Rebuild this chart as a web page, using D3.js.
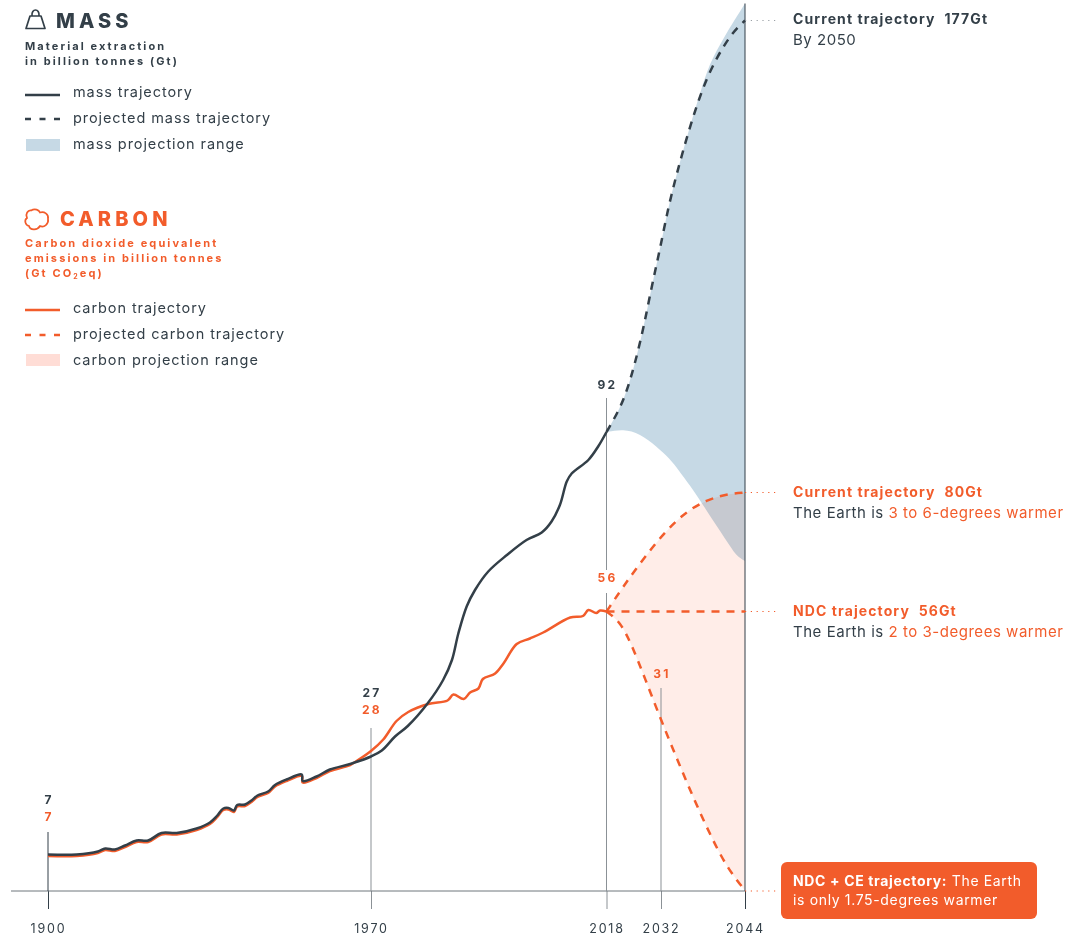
<!DOCTYPE html>
<html>
<head>
<meta charset="utf-8">
<script src="https://cdn.jsdelivr.net/npm/d3@7"></script>
<style>
  body { margin: 0; background: #fff; }
  text { font-family: Inter, "Open Sans", sans-serif; fill: #333f48; }
  .orange { fill: #f25c2b; }
  .legend { font-size: 14.5px; letter-spacing: 0.92px; }
  .subtitle { font-size: 11px; font-weight: 700; letter-spacing: 2.1px; }
  .title { font-size: 20px; font-weight: 800; letter-spacing: 4.1px; }
  .value { font-size: 12px; font-weight: 700; letter-spacing: 2.2px; text-anchor: middle; }
  .note { font-size: 15px; letter-spacing: 0.53px; }
  .note-b { font-size: 14px; font-weight: 700; letter-spacing: 1.1px; }
  .callout { font-size: 14px; letter-spacing: 0.65px; }
  .tick text { font-size: 12.5px; letter-spacing: 1.8px; fill: #333f48; }
</style>
</head>
<body>
<svg id="chart" width="1074" height="938"></svg>
<script>
// values, years / billion tonnes
const tickYears = [1900, 1970, 2018, 2032, 2044];

const massYears = [1900, 1906.2, 1910.8, 1912.4, 1914.5, 1916.7, 1919.2, 1921.7, 1924.6, 1927.9, 1932.2, 1935.1, 1936.6, 1938, 1939.1, 1940.3, 1941, 1942.7, 1944.1, 1945.4, 1947.7, 1949.2, 1951.7, 1955, 1955.2, 1958.2, 1961.1, 1965.5, 1970, 1972.2, 1974.9, 1977.5, 1981.6, 1984.7, 1986.5, 1987.8, 1989.5, 1991.2, 1993.9, 1997.7, 2001.7, 2004.8, 2006.8, 2008.5, 2009.9, 2010.9, 2014.3, 2016.3, 2018];
const massValues = [7.3, 7.3, 7.9, 8.5, 8.3, 9.1, 10.1, 10.1, 11.6, 11.6, 12.5, 13.7, 15, 16.5, 16.6, 16.1, 17.2, 17.3, 18.1, 19.1, 19.9, 21.2, 22.3, 23.3, 22, 22.9, 24.3, 25.4, 26.9, 28.1, 30.9, 33, 37.6, 42.2, 46.2, 51.5, 56.9, 60.2, 63.9, 67.2, 70.2, 71.7, 73.9, 77.2, 81.9, 83.5, 86.2, 88.9, 91.8];

const carbonYears = [1900, 1906.2, 1910.8, 1912.4, 1914.5, 1916.7, 1919.2, 1921.7, 1924.6, 1927.9, 1932.2, 1935.1, 1936.6, 1938, 1939.1, 1940.3, 1941, 1942.7, 1944.1, 1945.4, 1947.7, 1949.2, 1951.7, 1955, 1955.2, 1958.2, 1961.1, 1965.5, 1966.9, 1970, 1972.5, 1975.2, 1977.6, 1981.7, 1985.6, 1986.8, 1988.9, 1990.2, 1991.9, 1992.8, 1995.3, 1997, 1999.7, 2002.4, 2005.1, 2010.6, 2013.2, 2014.3, 2015.9, 2016.7, 2018];
const carbonValues = [7, 7, 7.6, 8.2, 8, 8.8, 9.8, 9.8, 11.3, 11.3, 12.2, 13.4, 14.7, 16.2, 16.3, 15.8, 16.9, 17, 17.8, 18.8, 19.6, 20.9, 22, 23, 21.7, 22.6, 24, 25.2, 26, 28, 30.3, 34, 35.8, 37.4, 38.1, 39.3, 38.4, 39.7, 40.5, 42.4, 43.5, 45.5, 49.4, 50.5, 51.7, 54.7, 55, 56.2, 55.6, 56.1, 55.9];

const massProjYears = [2018, 2021.5, 2023.6, 2025.3, 2027.5, 2029.6, 2031.7, 2033, 2034.2, 2035.9, 2038, 2040, 2042.3, 2044];
const massProjValues = [91.8, 96.5, 100.9, 105.5, 112.5, 120.9, 128.2, 136.5, 143.2, 151.9, 160.9, 166.9, 171.9, 174.1];

const massHighYears = [2018, 2021.5, 2023.6, 2025.3, 2027.5, 2029.6, 2031.7, 2033, 2034.2, 2035.9, 2038, 2039, 2040.9, 2044];
const massHighValues = [91.8, 96.5, 100.9, 105.5, 112.5, 120.9, 128.2, 136.5, 143.2, 151.9, 161.5, 165.6, 170.6, 177.5];
const massLowYears = [2018, 2022.3, 2026.6, 2030.9, 2033.3, 2034.5, 2036.1, 2038, 2040, 2041.9, 2042.8, 2044];
const massLowValues = [91.8, 92.4, 91.5, 88.9, 86.4, 84.2, 81.2, 77.2, 72.9, 68.9, 67, 66];

const carbonCurrentYears = [2018, 2022.3, 2027.5, 2032.6, 2035.6, 2038.5, 2041.4, 2044];
const carbonCurrentValues = [55.9, 60.9, 66.5, 71.9, 75.9, 78.2, 79.4, 79.7];
const carbonNdcYears = [2018, 2044];
const carbonNdcValues = [55.9, 55.9];
const carbonCeYears = [2018, 2021.5, 2024.5, 2027.9, 2032, 2034.2, 2036.6, 2039, 2041.4, 2044];
const carbonCeValues = [55.9, 53.9, 49.2, 42.5, 34.2, 26.7, 18.7, 11.3, 4.7, 0.1];

const dark = "#333f48", orange = "#f25c2b", grey = "#8b9196";

const svg = d3.select("#chart");

// the time axis of the original is not even, so it gets one stop per labelled year
const x = d3.scaleLinear().domain(tickYears).range([48, 371, 606.5, 661, 745]);
const y = d3.scaleLinear().domain([0, 177]).range([891, 6]);

const pts = (xs, vs) => xs.map((d, i) => [d, vs[i]]);
// history keeps its wiggles, the projections are smooth
const line = d3.line().x(d => x(d[0])).y(d => y(d[1])).curve(d3.curveCatmullRom.alpha(0.5));
const smooth = d3.line().x(d => x(d[0])).y(d => y(d[1])).curve(d3.curveBasis);

// area between two lists that have different years
function rangePath(highY, highV, lowY, lowV) {
    const top = smooth(pts(highY, highV));
    const bottom = smooth(pts(lowY, lowV).reverse());
    return top + "L" + bottom.slice(1) + "Z";
}

// ranges
svg.append("path")
    .attr("d", rangePath(massHighYears, massHighValues, massLowYears, massLowValues))
    .attr("fill", "#c6d9e5");
svg.append("path")
    .attr("d", rangePath(carbonCurrentYears, carbonCurrentValues, carbonCeYears, carbonCeValues))
    .attr("fill", "#ffede8")
    .style("mix-blend-mode", "multiply");

// axis: ticks hang under the baseline, the tall part is drawn separately below
const axis = d3.axisBottom(x)
    .tickValues(tickYears)
    .tickFormat(d3.format("d"))
    .tickSize(18)
    .tickPadding(15);
const axisG = svg.append("g")
    .attr("transform", `translate(0,${y(0)})`)
    .call(axis);
axisG.select(".domain").remove();
axisG.selectAll(".tick line").attr("stroke", d => (d === 1900 || d === 2044) ? dark : grey);

svg.append("line")
    .attr("x1", 11).attr("x2", x(2044))
    .attr("y1", y(0)).attr("y2", y(0))
    .attr("stroke", "#6f777d").attr("stroke-width", 1);

// tall tick stems, [year, from, to, colour] in Gt
const stems = [
    [1900, 0, 11.8, dark],
    [1970, 0, 32.6, grey],
    [2018, 0, 59.6, grey],
    [2018, 64.2, 98.6, grey],
    [2032, 0, 40.6, grey],
    [2044, 0, 177.5, dark]
];
svg.selectAll(".stem").data(stems).join("line")
    .attr("class", "stem")
    .attr("x1", d => x(d[0])).attr("x2", d => x(d[0]))
    .attr("y1", d => y(d[1])).attr("y2", d => y(d[2]))
    .attr("stroke", d => d[3]);

// dotted leaders to the notes
const leaders = [[174.1, "#9aa0a5"], [79.7, orange], [55.9, orange], [0, orange]];
svg.selectAll(".leader").data(leaders).join("line")
    .attr("class", "leader")
    .attr("x1", x(2044)).attr("x2", 778)
    .attr("y1", d => y(d[0])).attr("y2", d => y(d[0]))
    .attr("stroke", d => d[1])
    .attr("stroke-width", 1.2)
    .attr("stroke-dasharray", "1.2 4.6");

// dashed projections
const dashed = [
    [massProjYears, massProjValues, dark],
    [carbonCurrentYears, carbonCurrentValues, orange],
    [carbonNdcYears, carbonNdcValues, orange],
    [carbonCeYears, carbonCeValues, orange]
];
dashed.forEach(s => {
    svg.append("path")
        .attr("d", smooth(pts(s[0], s[1])))
        .attr("fill", "none")
        .attr("stroke", s[2])
        .attr("stroke-width", 2.5)
        .attr("stroke-dasharray", "8 7");
});

// solid lines, carbon goes under mass
svg.append("path").attr("d", line(pts(carbonYears, carbonValues)))
    .attr("fill", "none").attr("stroke", orange).attr("stroke-width", 2.5);
svg.append("path").attr("d", line(pts(massYears, massValues)))
    .attr("fill", "none").attr("stroke", dark).attr("stroke-width", 2.5);

// value labels
const labels = [
    ["7", 1900, 804, ""], ["7", 1900, 821, "orange"],
    ["27", 1970, 697, ""], ["28", 1970, 714, "orange"],
    ["92", 2018, 389, ""], ["56", 2018, 582, "orange"],
    ["31", 2032, 678, "orange"]
];
svg.selectAll(".value").data(labels).join("text")
    .attr("class", d => "value " + d[3])
    .attr("x", d => x(d[1]) + 1)
    .attr("y", d => d[2])
    .text(d => d[0]);

// legend block
function txt(cls, px, py, s) {
    return svg.append("text").attr("class", cls).attr("x", px).attr("y", py).text(s);
}

// weight icon
svg.append("path")
    .attr("d", "M26 28.5 L30 16 H41 L45 28.5 Z M32 16 C31 8 40 8 39 16")
    .attr("fill", "none").attr("stroke", dark).attr("stroke-width", 1.7).attr("stroke-linejoin", "round");
txt("title", 56, 28, "MASS");
txt("subtitle", 25, 50, "Material extraction");
txt("subtitle", 25, 65, "in billion tonnes (Gt)");

svg.append("line").attr("x1", 25).attr("x2", 60).attr("y1", 95).attr("y2", 95)
    .attr("stroke", dark).attr("stroke-width", 2.5);
txt("legend", 73, 97, "mass trajectory");
svg.append("line").attr("x1", 25).attr("x2", 60).attr("y1", 119).attr("y2", 119)
    .attr("stroke", dark).attr("stroke-width", 2.5).attr("stroke-dasharray", "6 8.5");
txt("legend", 73, 123, "projected mass trajectory");
svg.append("rect").attr("x", 26).attr("y", 139).attr("width", 34).attr("height", 12).attr("fill", "#c6d9e5");
txt("legend", 73, 149, "mass projection range");

// cloud icon
svg.append("path")
    .attr("d", "M31 210.5 C35 208 39 210 40 212.5 C44 211 49 214 48 219 C49 224 44 228 40 226 C37 231 30 230 29 226 C25 225 24 220 27 218 C25 214 28 210 31 210.5 Z")
    .attr("fill", "none").attr("stroke", orange).attr("stroke-width", 1.7);
txt("title orange", 60, 226, "CARBON");
txt("subtitle orange", 25, 247, "Carbon dioxide equivalent");
txt("subtitle orange", 25, 262, "emissions in billion tonnes");
const co2 = txt("subtitle orange", 25, 277, "(Gt CO");
co2.append("tspan").attr("dy", 2).style("font-size", "7px").text("2");
co2.append("tspan").attr("dy", -2).text("eq)");

svg.append("line").attr("x1", 25).attr("x2", 60).attr("y1", 310).attr("y2", 310)
    .attr("stroke", orange).attr("stroke-width", 2.5);
txt("legend", 73, 313, "carbon trajectory");
svg.append("line").attr("x1", 25).attr("x2", 60).attr("y1", 335).attr("y2", 335)
    .attr("stroke", orange).attr("stroke-width", 2.5).attr("stroke-dasharray", "6 8.5");
txt("legend", 73, 339, "projected carbon trajectory");
svg.append("rect").attr("x", 26).attr("y", 354).attr("width", 34).attr("height", 12).attr("fill", "#ffddd6");
txt("legend", 73, 365, "carbon projection range");

// notes on the right
function note(py, plain, coloured) {
    const t = txt("note", 793, py, plain);
    if (coloured) t.append("tspan").attr("class", "orange").text(coloured);
}
txt("note-b", 793, 24, "Current trajectory  177Gt").attr("xml:space", "preserve");
note(45, "By 2050");
txt("note-b orange", 793, 497, "Current trajectory  80Gt").attr("xml:space", "preserve");
note(518, "The Earth is ", "3 to 6-degrees warmer");
txt("note-b orange", 793, 616, "NDC trajectory  56Gt").attr("xml:space", "preserve");
note(637, "The Earth is ", "2 to 3-degrees warmer");

svg.append("rect")
    .attr("x", 781).attr("y", 862).attr("width", 256).attr("height", 57)
    .attr("rx", 6).attr("fill", orange);
const ce = svg.append("text").attr("class", "callout").attr("x", 793).attr("y", 886).style("fill", "#fff");
ce.append("tspan").style("font-weight", 700).style("fill", "#fff").text("NDC + CE trajectory:");
ce.append("tspan").style("fill", "#fff").text(" The Earth");
txt("callout", 793, 905, "is only 1.75-degrees warmer").style("fill", "#fff");
</script>
</body>
</html>
